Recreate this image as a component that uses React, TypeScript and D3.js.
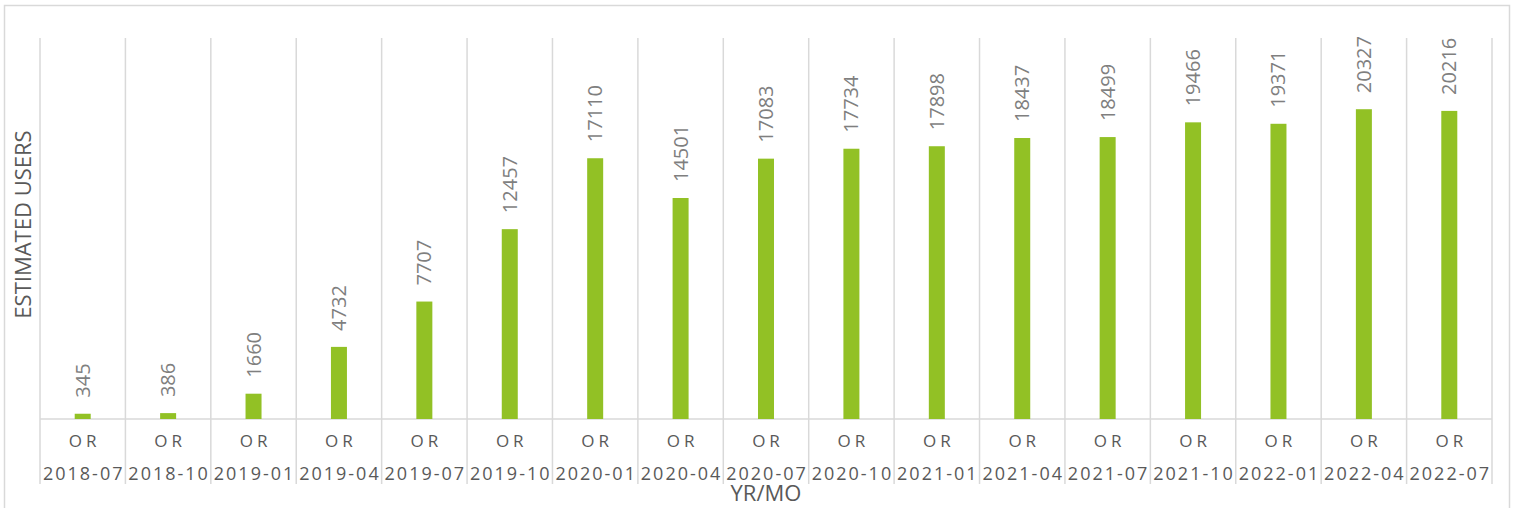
import React, { useEffect, useRef } from 'react';
import * as d3 from 'd3';

const periods = ['2018-07', '2018-10', '2019-01', '2019-04', '2019-07', '2019-10', '2020-01', '2020-04', '2020-07', '2020-10', '2021-01', '2021-04', '2021-07', '2021-10', '2022-01', '2022-04', '2022-07'];
const region = 'OR';
const users = [345, 386, 1660, 4732, 7707, 12457, 17110, 14501, 17083, 17734, 17898, 18437, 18499, 19466, 19371, 20327, 20216];
const yMax = 25000;

const App: React.FC = () => {
    const svgRef = useRef<SVGSVGElement>(null);

    useEffect(() => {
        if (!svgRef.current) return;
        const svg = d3.select(svgRef.current);
        svg.selectAll('*').remove();

        const width = 1513;
        const height = 508;
        const left = 40;
        const right = 1492;
        const top = 38;
        const base = 419;
        const gridColor = '#d9d9d9';
        const font = '"Open Sans", "DejaVu Sans", sans-serif';

        // outer frame
        svg.append('rect')
            .attr('x', 4.5).attr('y', 5.5)
            .attr('width', 1505).attr('height', 520)
            .attr('fill', 'white')
            .attr('stroke', gridColor)
            .attr('stroke-width', 1.5);

        const x = d3.scaleBand<string>()
            .domain(periods)
            .range([left, right]);

        const y = d3.scaleLinear()
            .domain([0, yMax])
            .range([base, top]);

        // category separators / vertical gridlines
        const edges = periods.map(p => x(p) as number).concat([right]);
        edges.forEach(ex => {
            svg.append('line')
                .attr('x1', ex).attr('x2', ex)
                .attr('y1', top).attr('y2', 484)
                .attr('stroke', gridColor)
                .attr('stroke-width', 1.5);
        });

        // baseline
        svg.append('line')
            .attr('x1', left).attr('x2', right)
            .attr('y1', base).attr('y2', base)
            .attr('stroke', gridColor)
            .attr('stroke-width', 1.5);

        const barW = 16;

        // bars
        svg.selectAll('rect.bar')
            .data(users)
            .enter()
            .append('rect')
            .attr('class', 'bar')
            .attr('x', (d, i) => (x(periods[i]) as number) + x.bandwidth() / 2 - barW / 2)
            .attr('y', d => y(d))
            .attr('width', barW)
            .attr('height', d => base - y(d))
            .attr('fill', '#92c125');

        // value labels
        users.forEach((d, i) => {
            const cx = (x(periods[i]) as number) + x.bandwidth() / 2;
            const ly = y(d) - 16;
            svg.append('text')
                .attr('transform', `translate(${cx + 7}, ${ly}) rotate(-90)`)
                .attr('text-anchor', 'start')
                .attr('font-family', font)
                .attr('font-size', '20px')
                .attr('fill', '#7f7f7f')
                .text(d);
        });

        // category labels
        periods.forEach(p => {
            const cx = (x(p) as number) + x.bandwidth() / 2;
            svg.append('text')
                .attr('x', cx + 2)
                .attr('y', 447)
                .attr('text-anchor', 'middle')
                .attr('font-family', font)
                .attr('font-size', '17px')
                .attr('letter-spacing', '4px')
                .attr('fill', '#595959')
                .text(region);
            svg.append('text')
                .attr('x', cx + 1)
                .attr('y', 480)
                .attr('text-anchor', 'middle')
                .attr('font-family', font)
                .attr('font-size', '18px')
                .attr('letter-spacing', '2px')
                .attr('fill', '#595959')
                .text(p);
        });

        // axis titles
        svg.append('text')
            .attr('transform', `translate(31, ${(top + base) / 2 - 4}) rotate(-90)`)
            .attr('text-anchor', 'middle')
            .attr('font-family', font)
            .attr('font-size', '22px')
            .attr('fill', '#595959')
            .text('ESTIMATED USERS');

        svg.append('text')
            .attr('x', (left + right) / 2)
            .attr('y', 501)
            .attr('text-anchor', 'middle')
            .attr('font-family', font)
            .attr('font-size', '22px')
            .attr('fill', '#595959')
            .text('YR/MO');

        svg.attr('width', width).attr('height', height);
    }, []);

    return (
        <svg ref={svgRef} width="1513" height="508" style={{ position: 'absolute', left: 0, top: 0 }}></svg>
    );
};

export default App;
